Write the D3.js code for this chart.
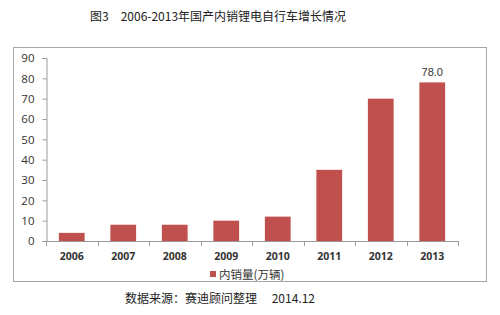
<!DOCTYPE html>
<html lang="zh">
<head>
  <meta charset="UTF-8">
  <title>2006-2013年国产内销锂电自行车增长情况</title>
  <script src="https://d3js.org/d3.v7.min.js"></script>
  <style>
    body { margin: 0; background: #fff; }
    svg { display: block; }
  </style>
</head>
<body>
  <svg></svg>
  <script>
    const years = ["2006", "2007", "2008", "2009", "2010", "2011", "2012", "2013"];
    const sales = [4, 8, 8, 10, 12, 35, 70, 78];
    const yTicks = [0, 10, 20, 30, 40, 50, 60, 70, 80, 90];
    const seriesName = "内销量(万辆)";
    const titleText = "图3　2006-2013年国产内销锂电自行车增长情况";
    const sourceText = "数据来源：赛迪顾问整理　 2014.12";

    const width = 500, height = 315;
    const cjk = "'Noto Sans CJK SC', 'Noto Sans', sans-serif";
    const svg = d3.select("svg").attr("width", width).attr("height", height);

    // titre
    svg.append("text")
      .attr("x", 90).attr("y", 21)
      .style("font", `12px ${cjk}`)
      .attr("fill", "#222")
      .text(titleText);

    // cadre du graphique
    svg.append("rect")
      .attr("x", 13.5).attr("y", 47.5)
      .attr("width", 473).attr("height", 234)
      .attr("fill", "#fff")
      .attr("stroke", "#a6a6a6");

    const x = d3.scaleBand().domain(years).range([46, 458]).paddingInner(0.5).paddingOuter(0.25);
    const y = d3.scaleLinear().domain([0, 90]).range([241, 58]);

    // barres
    svg.append("g")
      .selectAll("rect")
      .data(years)
      .join("rect")
      .attr("x", d => x(d))
      .attr("y", (d, i) => y(sales[i]))
      .attr("width", x.bandwidth())
      .attr("height", (d, i) => y(0) - y(sales[i]))
      .attr("fill", "#c0504d");

    // étiquette de la dernière valeur
    const last = years.length - 1;
    svg.append("text")
      .attr("x", x(years[last]) + x.bandwidth() / 2)
      .attr("y", y(sales[last]) - 6)
      .attr("text-anchor", "middle")
      .style("font", "11px 'Liberation Sans', Arial, sans-serif")
      .attr("fill", "#333")
      .text(sales[last].toFixed(1));

    // axe Y
    const yAxis = svg.append("g")
      .attr("transform", "translate(46.5,0)")
      .call(d3.axisLeft(y).tickValues(yTicks).tickSize(4).tickPadding(8));
    yAxis.selectAll("path, line").attr("stroke", "#999");
    yAxis.selectAll("text")
      .style("font", "11.5px 'Open Sans', sans-serif")
      .attr("fill", "#333");

    // axe X avec graduations entre les catégories
    const x0 = 46, x1 = 458;
    const xg = svg.append("g");
    xg.append("line")
      .attr("x1", x0).attr("x2", x1)
      .attr("y1", y(0) + 0.5).attr("y2", y(0) + 0.5)
      .attr("stroke", "#999");
    xg.selectAll("line.tk")
      .data(d3.range(years.length + 1))
      .join("line")
      .attr("class", "tk")
      .attr("x1", i => Math.round(x0 + i * (x1 - x0) / years.length) + 0.5)
      .attr("x2", i => Math.round(x0 + i * (x1 - x0) / years.length) + 0.5)
      .attr("y1", y(0)).attr("y2", y(0) + 5)
      .attr("stroke", "#999");
    xg.selectAll("text")
      .data(years)
      .join("text")
      .attr("x", d => x(d) + x.bandwidth() / 2)
      .attr("y", 260)
      .attr("text-anchor", "middle")
      .style("font", "bold 10.5px 'Open Sans', sans-serif")
      .attr("fill", "#333")
      .text(d => d);

    // légende
    svg.append("rect")
      .attr("x", 210).attr("y", 271)
      .attr("width", 6).attr("height", 6)
      .attr("fill", "#c0504d");
    svg.append("text")
      .attr("x", 219).attr("y", 279)
      .style("font", `11.5px ${cjk}`)
      .attr("fill", "#333")
      .text(seriesName);

    // source
    svg.append("text")
      .attr("x", 125).attr("y", 303)
      .style("font", `12px ${cjk}`)
      .attr("fill", "#222")
      .text(sourceText);
  </script>
</body>
</html>
